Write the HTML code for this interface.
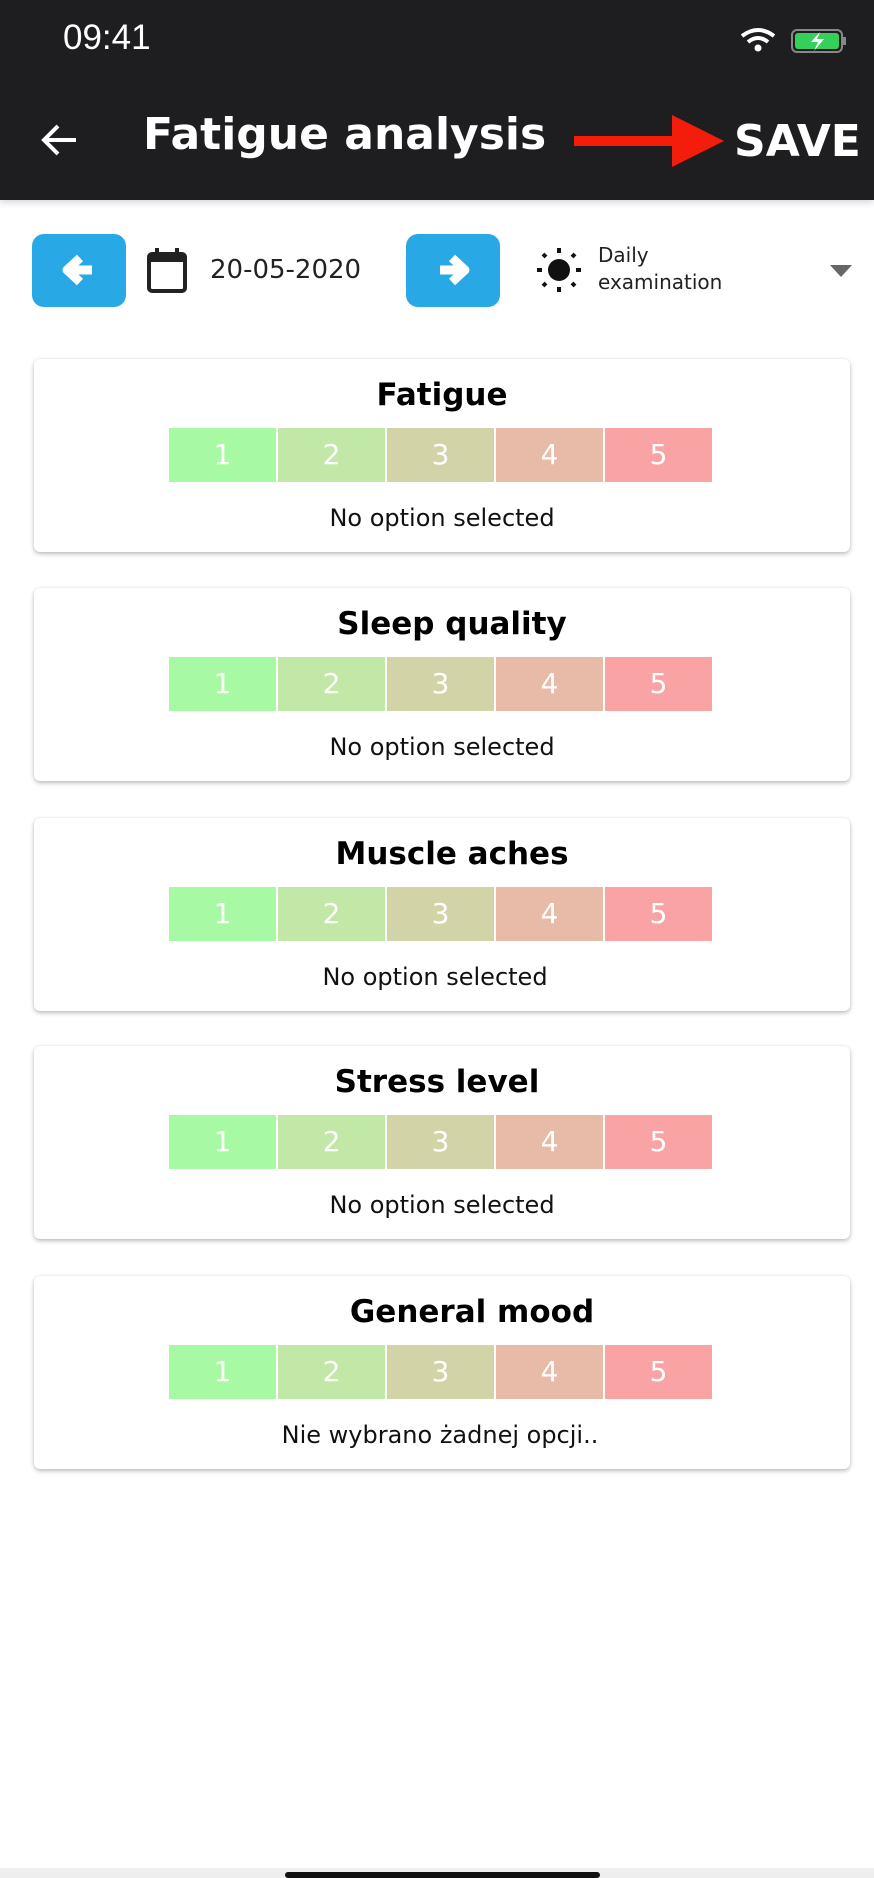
<!DOCTYPE html>
<html><head><meta charset="utf-8"><style>
*{margin:0;padding:0;box-sizing:border-box}
body{width:874px;height:1878px;background:#fff;font-family:"DejaVu Sans","Liberation Sans",sans-serif;position:relative;overflow:hidden}
.hdr{position:absolute;left:0;top:0;width:874px;height:200px;background:#1e1d20;box-shadow:0 3px 6px rgba(0,0,0,.15)}
.abs{position:absolute}
.btn{position:absolute;top:234px;width:94px;height:73px;background:#29a8e6;border-radius:12px}
.card{position:absolute;left:34px;width:816px;height:193px;background:#fff;border-radius:6px;box-shadow:0 2px 5px rgba(0,0,0,.25),0 0 2px rgba(0,0,0,.08)}
.card h2{position:absolute;top:18px;left:0;width:100%;text-align:center;font-size:31px;font-weight:bold;color:#000}
.bar{position:absolute;left:135px;top:69px;display:flex;gap:2px}
.bar div{width:107px;height:54px;color:#fff;font-size:28px;text-align:center;line-height:54px}
.card p{position:absolute;top:145px;left:0;width:100%;text-align:center;font-size:24px;color:#111}
</style></head><body>
<div class="hdr">
<div class="abs" style="left:63px;top:18px;color:#fff;font-size:35px;font-family:'Liberation Sans',sans-serif">09:41</div>
<svg class="abs" style="left:740px;top:26px" width="110" height="30" viewBox="0 0 110 30">
<path d="M2 10 Q18 -2 34 10" stroke="#fff" stroke-width="4" fill="none"/><path d="M8 16 Q18 8 28 16" stroke="#fff" stroke-width="4" fill="none"/><circle cx="18" cy="22" r="3.5" fill="#fff"/>
<rect x="52" y="4" width="50" height="22" rx="5" fill="none" stroke="#888" stroke-width="2"/><rect x="55" y="7" width="44" height="16" rx="3" fill="#35d05a"/><rect x="103" y="11" width="3" height="8" fill="#888"/><path d="M80 6 L71 16 L78 16 L74 25 L84 13 L77 13 Z" fill="#fff"/></svg>
<svg class="abs" style="left:40px;top:122px" width="40" height="36" viewBox="0 0 40 36"><path d="M36 18 H5 M18 4 L4 18 L18 32" stroke="#fff" stroke-width="4" fill="none"/></svg>
<div class="abs" style="left:143px;top:109px;color:#fff;font-size:44px;font-weight:bold">Fatigue analysis</div>
<svg class="abs" style="left:574px;top:115px" width="152" height="52" viewBox="0 0 152 52"><rect x="0" y="21" width="100" height="10" fill="#f41d0b"/><path d="M98 0 L150 26 L98 52 Z" fill="#f41d0b"/></svg>
<div class="abs" style="left:734px;top:116px;color:#fff;font-size:44px;font-weight:bold">SAVE</div>
</div>
<div class="btn" style="left:32px"><svg width="94" height="73" viewBox="0 0 94 73"><path d="M60 36 H38 M48 24 L35 36 L48 48" stroke="#fff" stroke-width="9" fill="none" stroke-linejoin="round"/></svg></div>
<svg class="abs" style="left:146px;top:246px" width="42" height="48" viewBox="0 0 42 48"><rect x="3" y="8" width="36" height="37" rx="3" fill="none" stroke="#222" stroke-width="4"/><rect x="3" y="8" width="36" height="8" fill="#222"/><rect x="9" y="2" width="4" height="9" fill="#222"/><rect x="29" y="2" width="4" height="9" fill="#222"/></svg>
<div class="abs" style="left:210px;top:255px;font-size:26px;color:#222">20-05-2020</div>
<div class="btn" style="left:406px"><svg width="94" height="73" viewBox="0 0 94 73"><path d="M34 36 H56 M46 24 L59 36 L46 48" stroke="#fff" stroke-width="9" fill="none" stroke-linejoin="round"/></svg></div>
<svg class="abs" style="left:535px;top:246px" width="48" height="48" viewBox="0 0 48 48"><circle cx="24" cy="24" r="11" fill="#111"/><g stroke="#111" stroke-width="4"><path d="M24 2v5M24 41v5M2 24h5M41 24h5M8 8l3 3M37 37l3 3M8 40l3-3M37 11l3-3"/></g></svg>
<div class="abs" style="left:598px;top:242px;font-size:20px;color:#222;line-height:27px">Daily<br>examination</div>
<svg class="abs" style="left:830px;top:265px" width="22" height="14" viewBox="0 0 22 14"><path d="M0 0 H22 L11 12 Z" fill="#666"/></svg>

<div class="card" style="top:359px"><h2>Fatigue</h2><div class="bar"><div style="background:#a8f9a3">1</div><div style="background:#c2e8a8">2</div><div style="background:#d3d3a8">3</div><div style="background:#e8bba8">4</div><div style="background:#f9a3a5">5</div></div><p>No option selected</p></div>
<div class="card" style="top:588px"><h2 style="left:10px">Sleep quality</h2><div class="bar"><div style="background:#a8f9a3">1</div><div style="background:#c2e8a8">2</div><div style="background:#d3d3a8">3</div><div style="background:#e8bba8">4</div><div style="background:#f9a3a5">5</div></div><p>No option selected</p></div>
<div class="card" style="top:818px"><h2 style="left:10px">Muscle aches</h2><div class="bar"><div style="background:#a8f9a3">1</div><div style="background:#c2e8a8">2</div><div style="background:#d3d3a8">3</div><div style="background:#e8bba8">4</div><div style="background:#f9a3a5">5</div></div><p style="left:-7px">No option selected</p></div>
<div class="card" style="top:1046px"><h2 style="left:-5px">Stress level</h2><div class="bar"><div style="background:#a8f9a3">1</div><div style="background:#c2e8a8">2</div><div style="background:#d3d3a8">3</div><div style="background:#e8bba8">4</div><div style="background:#f9a3a5">5</div></div><p>No option selected</p></div>
<div class="card" style="top:1276px"><h2 style="left:30px">General mood</h2><div class="bar"><div style="background:#a8f9a3">1</div><div style="background:#c2e8a8">2</div><div style="background:#d3d3a8">3</div><div style="background:#e8bba8">4</div><div style="background:#f9a3a5">5</div></div><p style="left:-2px">Nie wybrano żadnej opcji..</p></div>

<div class="abs" style="left:0;top:1868px;width:874px;height:10px;background:#eee"></div>
<div class="abs" style="left:285px;top:1872px;width:315px;height:6px;background:#111;border-radius:3px"></div>
</body></html>
